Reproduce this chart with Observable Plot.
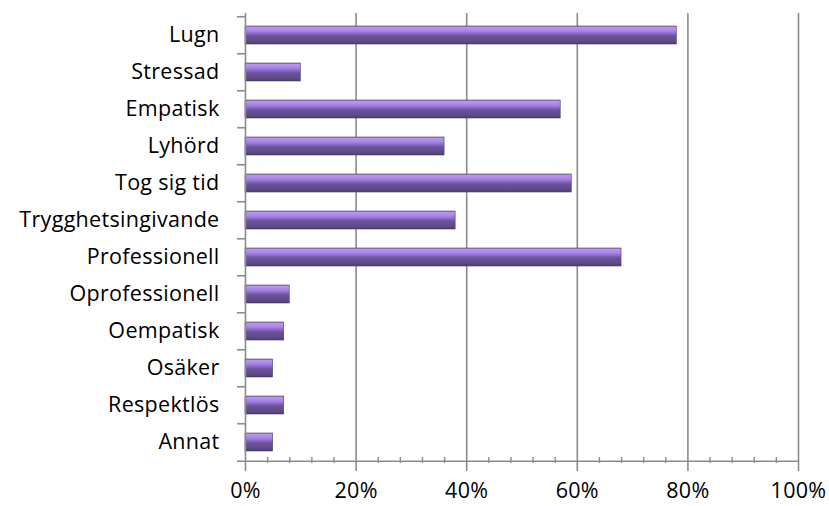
<!DOCTYPE html>
<html>
<head>
<meta charset="utf-8">
<script src="https://cdn.jsdelivr.net/npm/d3@7"></script>
<script src="https://cdn.jsdelivr.net/npm/@observablehq/plot@0.6"></script>
<style>
  html, body { margin: 0; padding: 0; background: #fff; }
  #chart svg { display: block; }
  #chart svg text { font-size: 21.5px !important; font-family: 'Open Sans', sans-serif; fill: #000; letter-spacing: 0.3px; }
</style>
</head>
<body>
<div id="chart"></div>
<script>
const categories = ["Lugn", "Stressad", "Empatisk", "Lyhörd", "Tog sig tid", "Trygghetsingivande",
  "Professionell", "Oprofessionell", "Oempatisk", "Osäker", "Respektlös", "Annat"];
const values = [78, 10, 57, 36, 59, 38, 68, 8, 7, 5, 7, 5];
const majorTicks = [0, 20, 40, 60, 80, 100];
const minorTicks = d3.range(0, 101, 4).filter(v => v % 20 !== 0);

const data = categories.map((c, i) => ({category: c, value: values[i]}));

const W = 829, H = 506;
const mTop = 13, mBottom = 43, mLeft = 245, mRight = 31;
const band = (H - mTop - mBottom) / categories.length;
const gridColor = "#8c8c8c";

const chart = Plot.plot({
  width: W,
  height: H,
  marginTop: mTop,
  marginBottom: mBottom,
  marginLeft: mLeft,
  marginRight: mRight,
  style: {fontFamily: "'Open Sans', sans-serif", fontSize: "21.5px", color: "#000", background: "#fff"},
  x: {domain: [0, 100]},
  y: {domain: categories, paddingInner: 0.52, paddingOuter: 0.26, align: 0.5},
  marks: [
    Plot.ruleX(majorTicks.filter(v => v > 0), {x: d => d, stroke: gridColor, strokeWidth: 1.6, insetBottom: -8}),
    Plot.ruleX(minorTicks, {x: d => d, stroke: gridColor, strokeWidth: 1.4, insetTop: H - mTop - mBottom - 6}),
    Plot.barX(data, {y: "category", x: "value", fill: "url(#barGrad)", stroke: "#4f3f6b", strokeWidth: 0.6,
      style: "filter: drop-shadow(1px 3px 2px rgba(0,0,0,0.35))"}),
    Plot.ruleX([0], {x: d => d, stroke: gridColor, strokeWidth: 1.6, insetBottom: -8}),
    Plot.ruleY([categories[categories.length - 1]], {y: d => d, x1: 0, x2: 100, dy: band / 2, stroke: gridColor, strokeWidth: 1.6}),
    Plot.ruleY(categories, {y: d => d, x1: 0, x2: 0, dy: -band / 2, insetLeft: -8, stroke: gridColor, strokeWidth: 1.6}),
    Plot.ruleY([categories[categories.length - 1]], {y: d => d, x1: 0, x2: 0, dy: band / 2, insetLeft: -8, stroke: gridColor, strokeWidth: 1.6}),
    Plot.axisX({ticks: majorTicks, tickFormat: d => d + "%", tickSize: 0, tickPadding: 19, label: null}),
    Plot.axisY({tickSize: 0, tickPadding: 26, label: null})
  ]
});

const svg = d3.select(chart);
const defs = svg.insert("defs", ":first-child");
const g = defs.append("linearGradient").attr("id", "barGrad").attr("x1", 0).attr("y1", 0).attr("x2", 0).attr("y2", 1);
[["0", "#8a74ad"], ["0.08", "#b996ee"], ["0.28", "#a784e6"], ["0.45", "#8463c0"], ["0.55", "#6c5399"], ["0.85", "#5f4a88"], ["1", "#4c3b66"]]
  .forEach(([o, c]) => g.append("stop").attr("offset", o).attr("stop-color", c));

document.getElementById("chart").appendChild(chart);
</script>
</body>
</html>
